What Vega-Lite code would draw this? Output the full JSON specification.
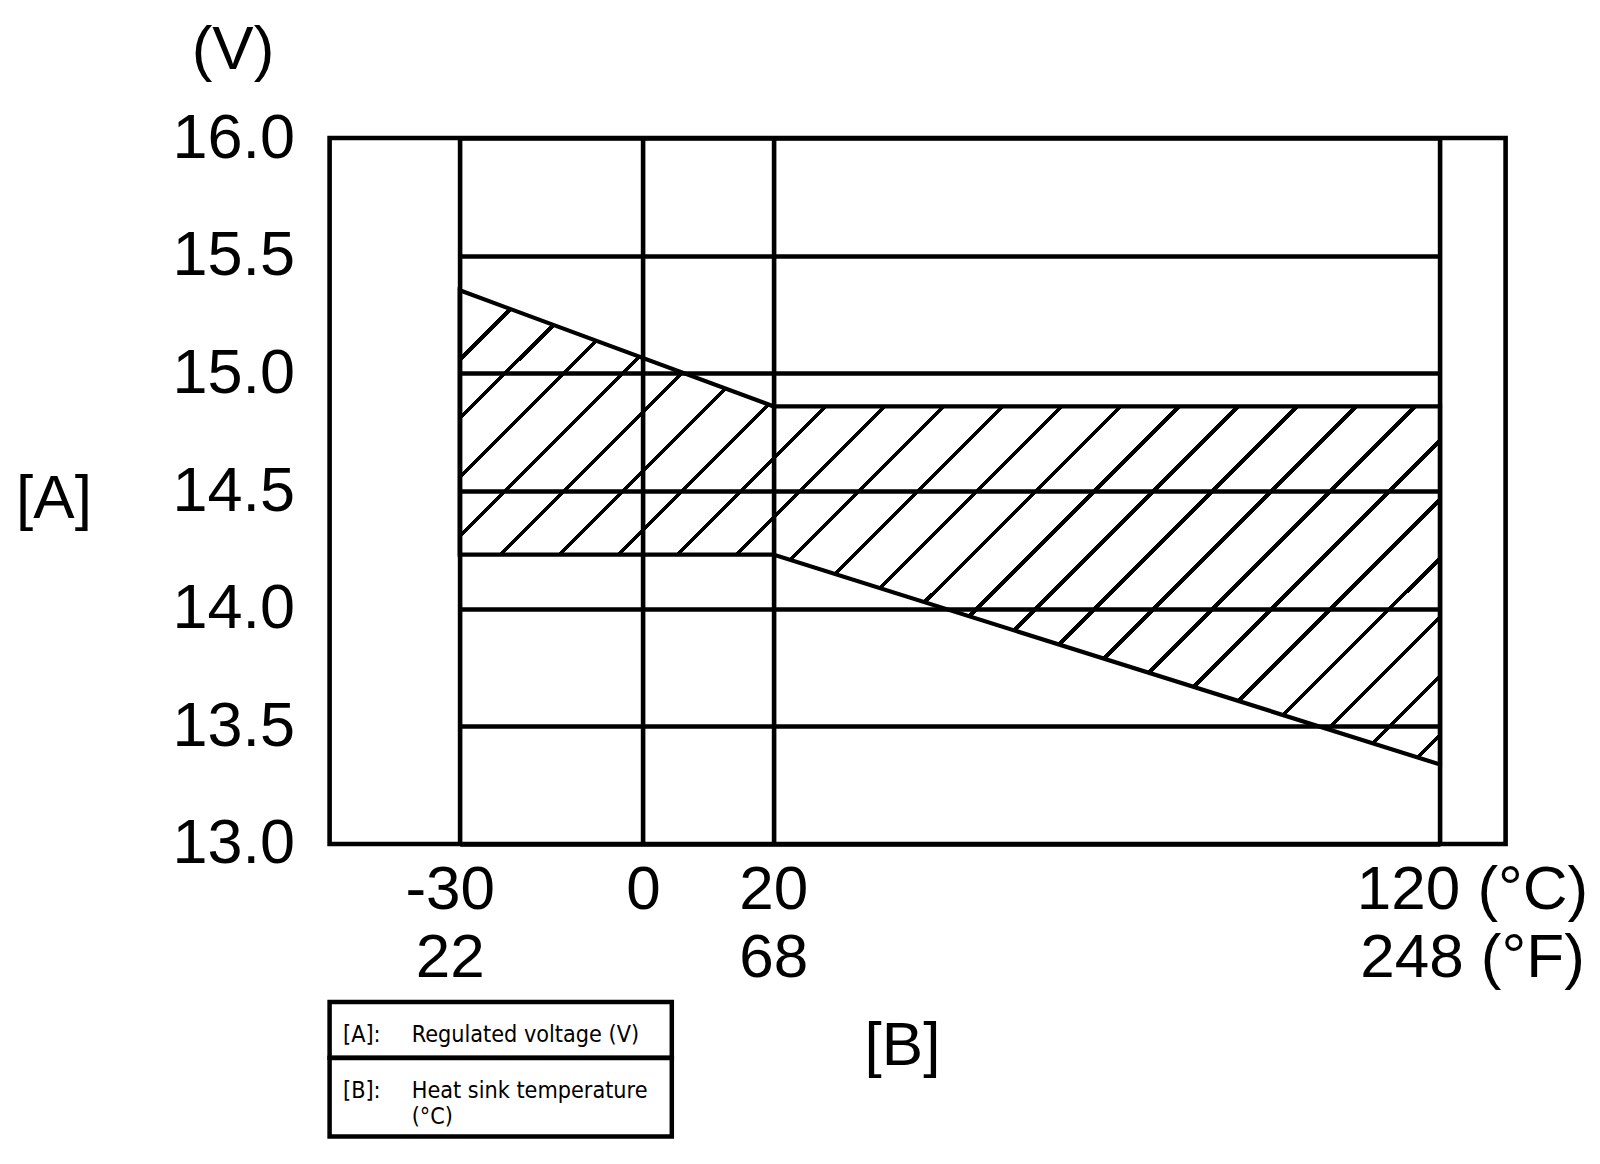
{
  "$schema": "https://vega.github.io/schema/vega-lite/v6.json",
  "padding": {"left": 12.6, "top": 17, "right": 5, "bottom": 5},
  "background": "white",
  "config": {"font": "Liberation Sans", "text": {"color": "black"}},
  "datasets": {
    "band": [
      {"t": -30, "hi": 15.353, "lo": 14.23},
      {"t": 20, "hi": 14.86, "lo": 14.23},
      {"t": 120, "hi": 14.86, "lo": 13.338}
    ],
    "legend": [
      {"row": "A", "col": "key", "text": "[A]:"},
      {"row": "A", "col": "desc", "text": "Regulated voltage (V)"},
      {"row": "B", "col": "key", "text": "[B]:\n"},
      {"row": "B", "col": "desc", "text": "Heat sink temperature\n(°C)"}
    ]
  },
  "bounds": "flush",
  "spacing": 158,
  "vconcat": [
    {
      "width": 1176,
      "height": 706,
      "view": {"stroke": "black", "strokeWidth": 4.6},
      "title": {"text": "(V)", "anchor": "start", "frame": "group", "align": "left", "dx": -137.9, "offset": -24.4, "baseline": "alphabetic", "font": "Liberation Sans", "fontSize": 62, "fontWeight": "normal", "color": "black"},
      "data": {"name": "band"},
      "mark": {
        "type": "area",
        "interpolate": "linear",
        "stroke": "black",
        "strokeWidth": 4.2,
        "strokeJoin": "miter",
        "fill": {
          "gradient": "linear",
          "x1": 0, "y1": 0, "x2": 1.2399, "y2": 0.5999,
          "stops": [
            {"offset": 0, "color": "rgba(0,0,0,0)"},
            {"offset": 0.04447, "color": "rgba(0,0,0,0)"}, {"offset": 0.04447, "color": "#000"}, {"offset": 0.04807, "color": "#000"}, {"offset": 0.04807, "color": "rgba(0,0,0,0)"},
            {"offset": 0.08377, "color": "rgba(0,0,0,0)"}, {"offset": 0.08377, "color": "#000"}, {"offset": 0.08737, "color": "#000"}, {"offset": 0.08737, "color": "rgba(0,0,0,0)"},
            {"offset": 0.12307, "color": "rgba(0,0,0,0)"}, {"offset": 0.12307, "color": "#000"}, {"offset": 0.12667, "color": "#000"}, {"offset": 0.12667, "color": "rgba(0,0,0,0)"},
            {"offset": 0.16237, "color": "rgba(0,0,0,0)"}, {"offset": 0.16237, "color": "#000"}, {"offset": 0.16597, "color": "#000"}, {"offset": 0.16597, "color": "rgba(0,0,0,0)"},
            {"offset": 0.20167, "color": "rgba(0,0,0,0)"}, {"offset": 0.20167, "color": "#000"}, {"offset": 0.20527, "color": "#000"}, {"offset": 0.20527, "color": "rgba(0,0,0,0)"},
            {"offset": 0.24097, "color": "rgba(0,0,0,0)"}, {"offset": 0.24097, "color": "#000"}, {"offset": 0.24457, "color": "#000"}, {"offset": 0.24457, "color": "rgba(0,0,0,0)"},
            {"offset": 0.28027, "color": "rgba(0,0,0,0)"}, {"offset": 0.28027, "color": "#000"}, {"offset": 0.28387, "color": "#000"}, {"offset": 0.28387, "color": "rgba(0,0,0,0)"},
            {"offset": 0.31957, "color": "rgba(0,0,0,0)"}, {"offset": 0.31957, "color": "#000"}, {"offset": 0.32317, "color": "#000"}, {"offset": 0.32317, "color": "rgba(0,0,0,0)"},
            {"offset": 0.35887, "color": "rgba(0,0,0,0)"}, {"offset": 0.35887, "color": "#000"}, {"offset": 0.36247, "color": "#000"}, {"offset": 0.36247, "color": "rgba(0,0,0,0)"},
            {"offset": 0.39817, "color": "rgba(0,0,0,0)"}, {"offset": 0.39817, "color": "#000"}, {"offset": 0.40177, "color": "#000"}, {"offset": 0.40177, "color": "rgba(0,0,0,0)"},
            {"offset": 0.43747, "color": "rgba(0,0,0,0)"}, {"offset": 0.43747, "color": "#000"}, {"offset": 0.44107, "color": "#000"}, {"offset": 0.44107, "color": "rgba(0,0,0,0)"},
            {"offset": 0.47677, "color": "rgba(0,0,0,0)"}, {"offset": 0.47677, "color": "#000"}, {"offset": 0.48037, "color": "#000"}, {"offset": 0.48037, "color": "rgba(0,0,0,0)"},
            {"offset": 0.51607, "color": "rgba(0,0,0,0)"}, {"offset": 0.51607, "color": "#000"}, {"offset": 0.51967, "color": "#000"}, {"offset": 0.51967, "color": "rgba(0,0,0,0)"},
            {"offset": 0.55537, "color": "rgba(0,0,0,0)"}, {"offset": 0.55537, "color": "#000"}, {"offset": 0.55897, "color": "#000"}, {"offset": 0.55897, "color": "rgba(0,0,0,0)"},
            {"offset": 0.59467, "color": "rgba(0,0,0,0)"}, {"offset": 0.59467, "color": "#000"}, {"offset": 0.59827, "color": "#000"}, {"offset": 0.59827, "color": "rgba(0,0,0,0)"},
            {"offset": 0.63397, "color": "rgba(0,0,0,0)"}, {"offset": 0.63397, "color": "#000"}, {"offset": 0.63757, "color": "#000"}, {"offset": 0.63757, "color": "rgba(0,0,0,0)"},
            {"offset": 0.67327, "color": "rgba(0,0,0,0)"}, {"offset": 0.67327, "color": "#000"}, {"offset": 0.67687, "color": "#000"}, {"offset": 0.67687, "color": "rgba(0,0,0,0)"},
            {"offset": 0.71257, "color": "rgba(0,0,0,0)"}, {"offset": 0.71257, "color": "#000"}, {"offset": 0.71617, "color": "#000"}, {"offset": 0.71617, "color": "rgba(0,0,0,0)"},
            {"offset": 0.75187, "color": "rgba(0,0,0,0)"}, {"offset": 0.75187, "color": "#000"}, {"offset": 0.75547, "color": "#000"}, {"offset": 0.75547, "color": "rgba(0,0,0,0)"},
            {"offset": 0.79117, "color": "rgba(0,0,0,0)"}, {"offset": 0.79117, "color": "#000"}, {"offset": 0.79477, "color": "#000"}, {"offset": 0.79477, "color": "rgba(0,0,0,0)"},
            {"offset": 0.83047, "color": "rgba(0,0,0,0)"}, {"offset": 0.83047, "color": "#000"}, {"offset": 0.83407, "color": "#000"}, {"offset": 0.83407, "color": "rgba(0,0,0,0)"},
            {"offset": 0.86977, "color": "rgba(0,0,0,0)"}, {"offset": 0.86977, "color": "#000"}, {"offset": 0.87337, "color": "#000"}, {"offset": 0.87337, "color": "rgba(0,0,0,0)"},
            {"offset": 0.90907, "color": "rgba(0,0,0,0)"}, {"offset": 0.90907, "color": "#000"}, {"offset": 0.91267, "color": "#000"}, {"offset": 0.91267, "color": "rgba(0,0,0,0)"},
            {"offset": 0.94837, "color": "rgba(0,0,0,0)"}, {"offset": 0.94837, "color": "#000"}, {"offset": 0.95197, "color": "#000"}, {"offset": 0.95197, "color": "rgba(0,0,0,0)"},
            {"offset": 1, "color": "rgba(0,0,0,0)"}
          ]
        }
      },
      "encoding": {
        "x": {
          "field": "t", "type": "quantitative",
          "scale": {"domain": [-30, 0, 20, 120], "range": [130.1, 313.4, 443.7, 1110.4], "nice": false, "zero": false},
          "axis": {
            "values": [-30, 0, 20, 120],
            "grid": true, "gridColor": "black", "gridWidth": 4.6, "gridOpacity": 1,
            "domain": false, "ticks": false,
            "labelFont": "Liberation Sans", "labelFontSize": 62, "labelColor": "black",
            "labelPadding": 15.6, "labelLineHeight": 68.3, "labelBaseline": "top", "labelAlign": "center",
            "labelFlush": false, "labelOverlap": false, "labelBound": false, "labelLimit": 0,
            "labelExpr": "datum.value == -30 ? ['-30', '22'] : datum.value == 0 ? '0' : datum.value == 20 ? ['20', '68'] : ['120 (°C)', '248 (°F)']",
            "labelOffset": {"condition": [{"test": "datum.value == -30", "value": -10}, {"test": "datum.value == 120", "value": 32}], "value": 0},
            "title": "[B]", "titleFont": "Liberation Sans", "titleFontSize": 62, "titleFontWeight": "normal", "titleColor": "black",
            "titleX": 572.4, "titleY": 220.5, "titleAlign": "center", "titleBaseline": "alphabetic"
          }
        },
        "y": {
          "field": "hi", "type": "quantitative",
          "scale": {"domain": [13, 16], "nice": false, "zero": false},
          "axis": {
            "values": [13, 13.5, 14, 14.5, 15, 15.5, 16], "format": ".1f",
            "grid": true, "gridColor": "black", "gridWidth": 4.6, "gridOpacity": 1,
            "domain": false, "ticks": false,
            "labelFont": "Liberation Sans", "labelFontSize": 63, "labelColor": "black",
            "labelPadding": 35, "labelOverlap": false, "labelFlush": false, "labelBound": false,
            "title": "[A]", "titleFont": "Liberation Sans", "titleFontSize": 62, "titleFontWeight": "normal", "titleColor": "black",
            "titleAngle": 0, "titleX": -276.1, "titleY": 379, "titleAlign": "center", "titleBaseline": "alphabetic"
          }
        },
        "y2": {"field": "lo"}
      }
    },
    {
      "bounds": "flush",
      "spacing": 0,
      "vconcat": [
        {
          "width": 342.2,
          "height": 55.8,
          "view": {"stroke": "black", "strokeWidth": 4.5},
          "data": {"name": "legend"},
          "transform": [{"filter": "datum.row == 'A'"}],
          "mark": {"type": "text", "align": "left", "baseline": "middle", "dy": 5, "font": "DejaVu Sans Condensed", "fontSize": 23.2, "lineBreak": "\n", "lineHeight": 26, "color": "black"},
          "encoding": {
            "x": {"field": "col", "type": "nominal", "scale": {"domain": ["key", "desc"], "range": [13.4, 82.1], "padding": 0}, "axis": null},
            "text": {"field": "text"}
          }
        },
        {
          "width": 342.2,
          "height": 78.4,
          "view": {"stroke": "black", "strokeWidth": 4.5},
          "data": {"name": "legend"},
          "transform": [{"filter": "datum.row == 'B'"}],
          "mark": {"type": "text", "align": "left", "baseline": "middle", "dy": -6.5, "font": "DejaVu Sans Condensed", "fontSize": 23.2, "lineBreak": "\n", "lineHeight": 26, "color": "black"},
          "encoding": {
            "x": {"field": "col", "type": "nominal", "scale": {"domain": ["key", "desc"], "range": [13.4, 82.1], "padding": 0}, "axis": null},
            "text": {"field": "text"}
          }
        }
      ]
    }
  ]
}
